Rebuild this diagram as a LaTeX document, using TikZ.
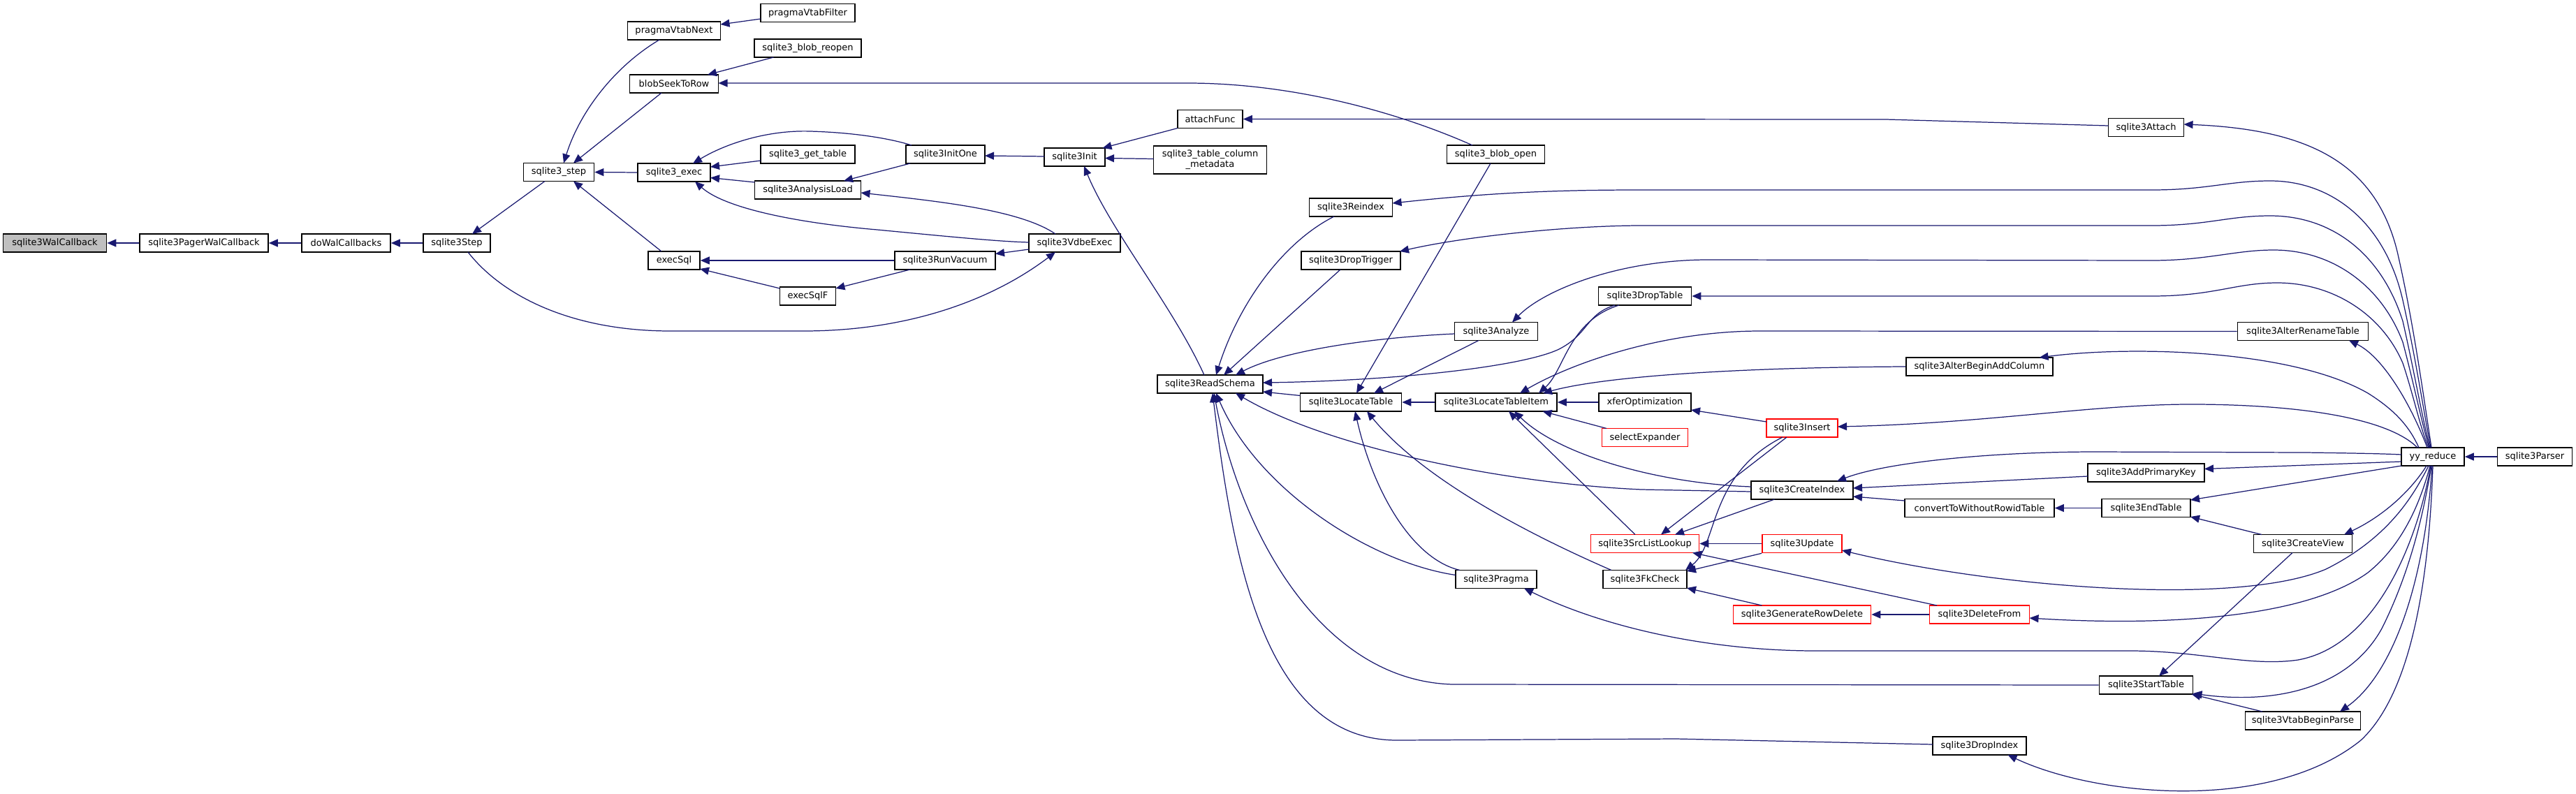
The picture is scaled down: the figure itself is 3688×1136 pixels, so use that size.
\documentclass[tikz,border=0pt]{standalone}
\usepackage{fontspec}
\setmainfont{DejaVu Sans}
\usetikzlibrary{arrows.meta,calc}
\definecolor{edgeblue}{HTML}{191970}
\definecolor{rootfill}{HTML}{BFBFBF}
\definecolor{truncred}{HTML}{FF0000}
\begin{document}
\begin{tikzpicture}[x=0.01cm,y=-0.01cm,
  bx/.style={draw=black, line width=0.45pt, fill=white, minimum height=0.26cm, inner sep=0pt, minimum width=#1cm, font=\fontsize{3.7pt}{4.3pt}\selectfont},
  rbx/.style={bx=#1, draw=truncred},
  edg/.style={draw=edgeblue, line width=0.35pt, arrows={Triangle[length=0.13cm,width=0.11cm]-}}]
\fill[white] (0,0) rectangle (3688,1136);
\useasboundingbox (0,0) rectangle (3688,1136);
% nodes
\node[bx=1.48, fill=rootfill] (wal) at (78.5,348) {sqlite3WalCallback};
\node[bx=1.84] (pager) at (292,348) {sqlite3PagerWalCallback};
\node[bx=1.27] (dowal) at (495.5,348) {doWalCallbacks};
\node[bx=0.96] (step) at (654,348) {sqlite3Step};
\node[bx=1.01] (ustep) at (800,246.5) {sqlite3\_step};
\node[bx=1.33] (vnext) at (965,44) {pragmaVtabNext};
\node[bx=1.27] (seek) at (965,120) {blobSeekToRow};
\node[bx=1.04] (exec) at (965,247) {sqlite3\_exec};
\node[bx=0.74] (execsql) at (965,373) {execSql};
\node[bx=1.35] (vfilter) at (1156.5,18.5) {pragmaVtabFilter};
\node[bx=1.53] (reopen) at (1156.5,69) {sqlite3\_blob\_reopen};
\node[bx=1.35] (gettable) at (1156.5,221) {sqlite3\_get\_table};
\node[bx=1.52] (aload) at (1156.5,272) {sqlite3AnalysisLoad};
\node[bx=0.80] (execsqlf) at (1156.5,424) {execSqlF};
\node[bx=1.13] (initone) at (1353.5,221) {sqlite3InitOne};
\node[bx=1.44] (vacuum) at (1353,373) {sqlite3RunVacuum};
\node[bx=0.87] (init) at (1538.5,225) {sqlite3Init};
\node[bx=1.31] (vdbe) at (1538.5,348) {sqlite3VdbeExec};
\node[bx=0.93] (attachf) at (1732.5,170.5) {attachFunc};
\node[bx=1.62, minimum height=0.40cm, align=center] (tcm) at (1732.5,229) {sqlite3\_table\_column\\\_metadata};
\node[bx=1.51] (rschema) at (1732.5,550) {sqlite3ReadSchema};
\node[bx=1.40] (bopen) at (2141.5,221) {sqlite3\_blob\_open};
\node[bx=1.19] (reindex) at (1934,297) {sqlite3Reindex};
\node[bx=1.42] (dtrigger) at (1934,373) {sqlite3DropTrigger};
\node[bx=1.45] (ltable) at (1934,576) {sqlite3LocateTable};
\node[bx=1.33] (dtable) at (2355,424) {sqlite3DropTable};
\node[bx=1.19] (analyze) at (2142,474.5) {sqlite3Analyze};
\node[bx=1.74] (ltitem) at (2142,576) {sqlite3LocateTableItem};
\node[bx=1.32] (xfer) at (2355,576) {xferOptimization};
\node[rbx=1.23] (sexp) at (2355,626.5) {selectExpander};
\node[rbx=1.55] (srcl) at (2355,778.5) {sqlite3SrcListLookup};
\node[bx=1.16] (pragma) at (2142,829.5) {sqlite3Pragma};
\node[bx=1.20] (fk) at (2355,829.5) {sqlite3FkCheck};
\node[rbx=1.02] (insert) at (2580,613) {sqlite3Insert};
\node[bx=1.46] (cindex) at (2580,702) {sqlite3CreateIndex};
\node[rbx=1.14] (update) at (2580,778.5) {sqlite3Update};
\node[rbx=1.97] (grd) at (2580,880) {sqlite3GenerateRowDelete};
\node[bx=1.08] (attach) at (3072.5,182.5) {sqlite3Attach};
\node[bx=2.10] (abac) at (2834,525) {sqlite3AlterBeginAddColumn};
\node[bx=2.14] (cwr) at (2834,727.5) {convertToWithoutRowidTable};
\node[rbx=1.43] (dfrom) at (2834,880) {sqlite3DeleteFrom};
\node[bx=1.34] (dindex) at (2834,1068) {sqlite3DropIndex};
\node[bx=1.67] (apk) at (3072.5,677) {sqlite3AddPrimaryKey};
\node[bx=1.27] (etable) at (3072.5,727.5) {sqlite3EndTable};
\node[bx=1.34] (stable) at (3072.5,981) {sqlite3StartTable};
\node[bx=1.87] (art) at (3297,474.5) {sqlite3AlterRenameTable};
\node[bx=1.41] (cview) at (3297,778.5) {sqlite3CreateView};
\node[bx=1.65] (vbp) at (3297,1032) {sqlite3VtabBeginParse};
\node[bx=0.90] (yy) at (3483,654) {yy\_reduce};
\node[bx=1.07] (parser) at (3629,654) {sqlite3Parser};
% edges (arrow at callee)
\draw[edg] (wal.east) -- (pager.west);
\draw[edg] (pager.east) -- (dowal.west);
\draw[edg] (dowal.east) -- (step.west);
\draw[edg] ($(step)+(22,-13)$) -- ($(ustep)+(-20,13)$);
\draw[edg] ($(vdbe)+(-27.5,13)$) .. controls (1420,430) and (1300,474) .. (1150,474) -- (960,474) .. controls (820,474) and (720,425) .. ($(step)+(16,13)$);
\draw[edg] ($(ustep)+(7,-13)$) .. controls (830,160) and (880,95) .. ($(vnext)+(-21,13)$);
\draw[edg] ($(ustep)+(21,-13)$) -- ($(seek)+(-18,13)$);
\draw[edg] (ustep.east) -- (exec.west);
\draw[edg] ($(ustep)+(21,13)$) -- ($(execsql)+(-18,-13)$);
\draw[edg] ($(vnext)+(66.5,-9)$) -- ($(vfilter)+(-67.5,8.5)$);
\draw[edg] ($(seek)+(48,-13)$) -- ($(reopen)+(-49,13)$);
\draw[edg] ($(seek)+(63.5,-1)$) -- (1700,119) .. controls (1850,119) and (2000,160) .. ($(bopen)+(-33.5,-13)$);
\draw[edg] ($(exec)+(27,-13)$) .. controls (1040,205) and (1100,186) .. (1160,188) .. controls (1230,190) and (1280,200) .. ($(initone)+(-48.5,-13)$);
\draw[edg] ($(exec)+(52,-8)$) -- ($(gettable)+(-67.5,9)$);
\draw[edg] ($(exec)+(52,7.5)$) -- ($(aload)+(-76,-11)$);
\draw[edg] ($(exec)+(30,13)$) .. controls (1040,300) and (1150,320) .. (1256,329) .. controls (1350,338) and (1430,346) .. ($(vdbe)+(-65.5,-1)$);
\draw[edg] (execsql.east) -- (vacuum.west);
\draw[edg] ($(execsql)+(37,12)$) -- ($(execsqlf)+(-40,-11)$);
\draw[edg] ($(execsqlf)+(40,-11)$) -- ($(vacuum)+(-50,13)$);
\draw[edg] ($(vacuum)+(72,-9.5)$) -- ($(vdbe)+(-65.5,9)$);
\draw[edg] ($(aload)+(51.5,-13)$) -- ($(initone)+(-50.5,13)$);
\draw[edg] ($(aload)+(76,4)$) .. controls (1340,288) and (1460,300) .. ($(vdbe)+(-27.5,-13)$);
\draw[edg] ($(initone)+(56.5,2)$) -- ($(init)+(-43.5,-1)$);
\draw[edg] ($(init)+(40,-13)$) -- ($(attachf)+(-46.5,13)$);
\draw[edg] ($(init)+(43.5,1.5)$) -- ($(tcm)+(-81,-1.5)$);
\draw[edg] ($(init)+(13.5,13)$) .. controls (1590,330) and (1680,440) .. ($(rschema)+(-8.5,-13)$);
\draw[edg] (attachf.east) -- (2700,171) -- ($(attach)+(-54,-2.5)$);
\draw[edg] ($(attach)+(54,-4.5)$) .. controls (3300,185) and (3400,230) .. (3432,360) .. controls (3455,460) and (3470,570) .. ($(yy)+(-2,-13)$);
% ReadSchema
\draw[edg] ($(rschema)+(8.5,-13)$) .. controls (1775,430) and (1840,345) .. ($(reindex)+(-24,13)$);
\draw[edg] ($(rschema)+(19.5,-13)$) -- ($(dtrigger)+(-15,13)$);
\draw[edg] ($(rschema)+(36.5,-13)$) .. controls (1830,505) and (1950,484) .. ($(analyze)+(-59.5,3.5)$);
\draw[edg] ($(rschema)+(75.5,-2)$) .. controls (2000,545) and (2180,525) .. (2232,500) .. controls (2275,478) and (2270,450) .. ($(dtable)+(-43,13)$);
\draw[edg] ($(rschema)+(75.5,11)$) -- ($(ltable)+(-72.5,-9.5)$);
\draw[edg] ($(rschema)+(36.5,13)$) .. controls (1900,640) and (2150,692) .. (2350,701) -- ($(cindex)+(-73,2)$);
\draw[edg] ($(rschema)+(8.5,13)$) .. controls (1800,700) and (1960,805) .. ($(pragma)+(-58,-6)$);
\draw[edg] ($(rschema)+(5.5,13)$) .. controls (1775,760) and (1890,975) .. (2080,980) -- (stable.west);
\draw[edg] ($(rschema)+(3.5,13)$) .. controls (1765,800) and (1810,1060) .. (2000,1060) -- (2400,1058) -- ($(dindex)+(-67,-2)$);
% LocateTable
\draw[edg] ($(ltable)+(33,-13)$) -- ($(analyze)+(-25,13)$);
\draw[edg] ($(ltable)+(8,-13)$) -- ($(bopen)+(-7.5,13)$);
\draw[edg] (ltable.east) -- (ltitem.west);
\draw[edg] ($(ltable)+(6,13)$) .. controls (1965,700) and (2020,800) .. ($(pragma)+(-52,-13)$);
\draw[edg] ($(ltable)+(23,13)$) .. controls (2040,690) and (2200,770) .. ($(fk)+(-48,-13)$);
% LocateTableItem
\draw[edg] ($(ltitem)+(61,-13)$) .. controls (2240,530) and (2245,460) .. ($(dtable)+(-37,13)$);
\draw[edg] ($(ltitem)+(34,-13)$) .. controls (2250,520) and (2380,474) .. (2520,474) -- (art.west);
\draw[edg] ($(ltitem)+(67,-13)$) .. controls (2300,538) and (2500,526) .. (abac.west);
\draw[edg] (ltitem.east) -- (xfer.west);
\draw[edg] ($(ltitem)+(66.5,13)$) -- ($(sexp)+(-55,-13)$);
\draw[edg] ($(ltitem)+(18,13)$) -- ($(srcl)+(-14,-13)$);
\draw[edg] ($(ltitem)+(26,13)$) .. controls (2230,650) and (2370,692) .. ($(cindex)+(-73,-5)$);
\draw[edg] ($(xfer)+(66,11)$) -- ($(insert)+(-51,-9)$);
% SrcListLookup and FkCheck
\draw[edg] ($(srcl)+(23,-13)$) -- ($(insert)+(-22,13)$);
\draw[edg] ($(srcl)+(43,-13)$) -- ($(cindex)+(-39.5,13)$);
\draw[edg] (srcl.east) -- (update.west);
\draw[edg] ($(srcl)+(68,13)$) -- ($(dfrom)+(-61,-13)$);
\draw[edg] ($(fk)+(58,-13)$) .. controls (2460,780) and (2445,680) .. ($(insert)+(-28,13)$);
\draw[edg] ($(fk)+(60,-11.5)$) -- (update.south west);
\draw[edg] ($(fk)+(60,12.5)$) -- ($(grd)+(-57.5,-13)$);
\draw[edg] (grd.east) -- (dfrom.west);
% CreateIndex
\draw[edg] ($(cindex)+(50,-13)$) .. controls (2700,662) and (2850,647) .. (3000,647) -- (3300,648) .. controls (3380,649) and (3420,650) .. ($(yy)+(-45,-3)$);
\draw[edg] ($(cindex)+(73,-3)$) -- ($(apk)+(-83.5,5)$);
\draw[edg] ($(cindex)+(73,9)$) -- ($(cwr)+(-107,-10.5)$);
\draw[edg] (cwr.east) -- (etable.west);
\draw[edg] ($(apk)+(83.5,-5.5)$) -- ($(yy)+(-45,7)$);
\draw[edg] ($(etable)+(63.5,-11.5)$) -- ($(yy)+(-45,13)$);
\draw[edg] ($(etable)+(63.5,12.5)$) -- ($(cview)+(-59,-13)$);
\draw[edg] ($(cview)+(59,-13)$) .. controls (3410,740) and (3450,705) .. ($(yy)+(-9,13)$);
\draw[edg] ($(stable)+(18.5,-13)$) -- ($(cview)+(-15,13)$);
\draw[edg] ($(stable)+(65,13)$) -- ($(vbp)+(-58,-13)$);
% yy_reduce fan
\draw[edg] ($(reindex)+(59.5,-6)$) .. controls (2150,274) and (2250,272) .. (2350,272) -- (3080,272) .. controls (3160,272) and (3190,259) .. (3250,259) .. controls (3340,259) and (3415,320) .. (3440,430) .. controls (3458,510) and (3470,590) .. ($(yy)+(-3,-13)$);
\draw[edg] ($(dtrigger)+(70,-13)$) .. controls (2100,338) and (2250,323) .. (2350,323) -- (3080,323) .. controls (3160,323) and (3190,309) .. (3250,309) .. controls (3340,309) and (3410,365) .. (3440,460) .. controls (3456,530) and (3468,600) .. ($(yy)+(-4,-13)$);
\draw[edg] ($(analyze)+(23,-13)$) .. controls (2210,415) and (2320,371) .. (2450,372) -- (3080,373) .. controls (3160,373) and (3200,358) .. (3255,358) .. controls (3340,358) and (3410,410) .. (3440,490) .. controls (3456,550) and (3468,610) .. ($(yy)+(-5,-13)$);
\draw[edg] (dtable.east) -- (3080,424) .. controls (3170,424) and (3200,405) .. (3260,405) .. controls (3340,405) and (3410,450) .. (3440,520) .. controls (3455,565) and (3467,620) .. ($(yy)+(-6,-13)$);
\draw[edg] ($(art)+(66,13)$) .. controls (3410,510) and (3450,575) .. ($(yy)+(-8,-13)$);
\draw[edg] ($(abac)+(85.5,-13)$) .. controls (3050,495) and (3280,500) .. (3390,563) .. controls (3430,588) and (3450,612) .. ($(yy)+(-20,-13)$);
\draw[edg] ($(insert)+(51,-2)$) .. controls (2850,606) and (3000,578) .. (3146,579) .. controls (3300,580) and (3420,600) .. ($(yy)+(-22,-13)$);
\draw[edg] ($(update)+(57,9.5)$) .. controls (2850,840) and (3200,870) .. (3330,815) .. controls (3420,770) and (3455,710) .. ($(yy)+(-6,13)$);
\draw[edg] ($(dfrom)+(71.5,5)$) .. controls (3100,897) and (3300,885) .. (3390,820) .. controls (3440,780) and (3465,720) .. ($(yy)+(-4,13)$);
\draw[edg] ($(stable)+(67,12)$) .. controls (3250,1008) and (3360,990) .. (3410,900) .. controls (3455,810) and (3472,720) .. ($(yy)+(-2,13)$);
\draw[edg] ($(vbp)+(53,-13)$) .. controls (3420,970) and (3470,850) .. ($(yy)+(-1,13)$);
\draw[edg] ($(dindex)+(40.5,13)$) .. controls (3000,1140) and (3250,1165) .. (3380,1060) .. controls (3455,990) and (3478,820) .. ($(yy)+(0,13)$);
\draw[edg] ($(pragma)+(40,13)$) .. controls (2300,900) and (2450,932) .. (2600,932) -- (3050,932) .. controls (3150,932) and (3220,955) .. (3290,945) .. controls (3400,925) and (3460,780) .. ($(yy)+(-3,13)$);
\draw[edg] (yy.east) -- (parser.west);
\end{tikzpicture}
\end{document}
